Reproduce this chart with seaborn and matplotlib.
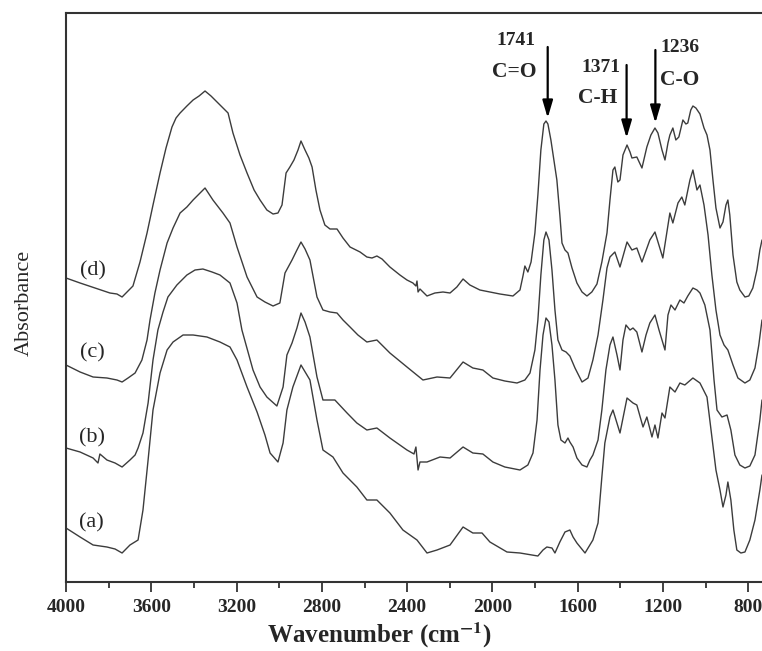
import matplotlib
matplotlib.use("Agg")
import matplotlib.pyplot as plt
from matplotlib.ticker import MultipleLocator
import pandas as pd
import seaborn as sns

# FTIR spectra (absorbance in arbitrary units, curves offset)
wn_d = [4000, 3934, 3864, 3794, 3761, 3737, 3709, 3686, 3653, 3620, 3592, 3559, 3531, 3503, 3484, 3465,
        3433, 3404, 3376, 3348, 3320, 3292, 3264, 3240, 3217, 3184, 3151, 3118, 3090, 3058, 3029, 3006,
        2987, 2968, 2950, 2931, 2912, 2898, 2879, 2861, 2846, 2828, 2809, 2786, 2762, 2729, 2701, 2668,
        2621, 2589, 2565, 2542, 2518, 2481, 2434, 2401, 2373, 2359, 2354, 2349, 2340, 2307, 2270, 2232,
        2199, 2167, 2138, 2106, 2059, 2012, 1965, 1904, 1871, 1857, 1848, 1834, 1819, 1801, 1787, 1773,
        1759, 1749, 1740, 1726, 1712, 1698, 1684, 1674, 1660, 1646, 1627, 1604, 1580, 1557, 1534, 1510,
        1487, 1463, 1449, 1435, 1426, 1412, 1402, 1388, 1369, 1355, 1346, 1323, 1299, 1276, 1257, 1238,
        1224, 1205, 1191, 1177, 1168, 1154, 1140, 1126, 1107, 1093, 1084, 1070, 1060, 1046, 1027, 1008,
        994, 980, 966, 952, 933, 919, 905, 896, 887, 872, 854, 840, 816, 798, 779, 760, 746, 736]
abs_d = [3.04, 2.99, 2.94, 2.89, 2.88, 2.85, 2.91, 2.96, 3.20, 3.49, 3.77, 4.09, 4.34, 4.55, 4.64, 4.69,
         4.76, 4.82, 4.86, 4.91, 4.86, 4.80, 4.74, 4.69, 4.49, 4.27, 4.09, 3.92, 3.82, 3.72, 3.68, 3.69,
         3.77, 4.09, 4.15, 4.22, 4.32, 4.41, 4.32, 4.24, 4.15, 3.92, 3.72, 3.57, 3.53, 3.53, 3.44, 3.35,
         3.30, 3.25, 3.24, 3.26, 3.23, 3.15, 3.07, 3.02, 2.99, 2.96, 3.01, 2.90, 2.93, 2.86, 2.89, 2.90,
         2.89, 2.95, 3.03, 2.97, 2.92, 2.90, 2.88, 2.86, 2.92, 3.06, 3.16, 3.10, 3.20, 3.49, 3.87, 4.32,
         4.58, 4.61, 4.58, 4.42, 4.22, 4.02, 3.67, 3.39, 3.32, 3.29, 3.14, 2.99, 2.90, 2.86, 2.90, 2.98,
         3.20, 3.49, 3.82, 4.12, 4.15, 4.00, 4.02, 4.27, 4.37, 4.30, 4.24, 4.25, 4.14, 4.35, 4.47, 4.54,
         4.49, 4.32, 4.22, 4.39, 4.47, 4.54, 4.42, 4.45, 4.62, 4.58, 4.59, 4.72, 4.76, 4.74, 4.68, 4.54,
         4.47, 4.32, 4.02, 3.74, 3.54, 3.60, 3.77, 3.82, 3.67, 3.27, 3.00, 2.92, 2.85, 2.86, 2.94, 3.12,
         3.32, 3.42]

wn_c = [4000, 3934, 3873, 3808, 3761, 3737, 3709, 3676, 3644, 3620, 3606, 3583, 3559, 3526, 3498, 3465,
        3433, 3404, 3376, 3348, 3311, 3264, 3231, 3198, 3151, 3104, 3067, 3029, 2997, 2973, 2940, 2917,
        2898, 2879, 2856, 2823, 2795, 2762, 2729, 2701, 2668, 2631, 2589, 2542, 2481, 2401, 2326, 2260,
        2199, 2138, 2092, 2045, 1998, 1942, 1885, 1848, 1824, 1801, 1787, 1773, 1759, 1749, 1735, 1721,
        1707, 1693, 1674, 1655, 1637, 1613, 1580, 1552, 1529, 1505, 1482, 1463, 1449, 1426, 1402, 1369,
        1346, 1323, 1299, 1262, 1238, 1201, 1168, 1154, 1130, 1112, 1098, 1074, 1060, 1041, 1027, 1008,
        989, 971, 952, 933, 914, 896, 872, 849, 816, 793, 769, 751, 736]
abs_c = [2.17, 2.10, 2.05, 2.04, 2.02, 2.00, 2.04, 2.09, 2.22, 2.42, 2.62, 2.89, 3.12, 3.39, 3.54, 3.69,
         3.75, 3.82, 3.88, 3.94, 3.82, 3.69, 3.59, 3.35, 3.05, 2.85, 2.80, 2.76, 2.79, 3.09, 3.22, 3.32,
         3.40, 3.33, 3.22, 2.85, 2.72, 2.70, 2.69, 2.62, 2.55, 2.47, 2.40, 2.42, 2.29, 2.15, 2.02, 2.05,
         2.04, 2.20, 2.14, 2.12, 2.04, 2.01, 1.99, 2.02, 2.09, 2.32, 2.62, 3.07, 3.42, 3.50, 3.42, 3.12,
         2.72, 2.42, 2.32, 2.30, 2.26, 2.14, 2.00, 2.04, 2.22, 2.47, 2.82, 3.14, 3.25, 3.30, 3.15, 3.40,
         3.32, 3.34, 3.20, 3.42, 3.50, 3.24, 3.69, 3.59, 3.79, 3.85, 3.77, 4.02, 4.12, 3.92, 3.97, 3.77,
         3.47, 3.07, 2.72, 2.47, 2.37, 2.32, 2.17, 2.04, 1.99, 2.02, 2.14, 2.37, 2.62]

wn_b = [4000, 3934, 3873, 3850, 3841, 3808, 3770, 3737, 3700, 3676, 3662, 3639, 3615, 3592, 3569, 3545,
        3522, 3480, 3433, 3395, 3358, 3315, 3278, 3231, 3198, 3175, 3123, 3090, 3058, 3011, 2982, 2964,
        2940, 2917, 2898, 2879, 2856, 2823, 2795, 2739, 2682, 2636, 2589, 2542, 2481, 2401, 2368, 2359,
        2349, 2340, 2307, 2246, 2199, 2138, 2092, 2045, 1998, 1942, 1871, 1834, 1810, 1791, 1777, 1763,
        1749, 1735, 1721, 1707, 1693, 1679, 1660, 1646, 1637, 1622, 1604, 1580, 1557, 1543, 1529, 1505,
        1487, 1468, 1449, 1435, 1416, 1402, 1388, 1374, 1355, 1341, 1323, 1299, 1280, 1262, 1238, 1219,
        1205, 1191, 1177, 1163, 1144, 1121, 1102, 1084, 1060, 1041, 1027, 1004, 980, 961, 947, 924,
        900, 882, 863, 840, 816, 793, 769, 746, 736]
abs_b = [1.34, 1.30, 1.24, 1.19, 1.28, 1.22, 1.19, 1.15, 1.22, 1.27, 1.34, 1.49, 1.79, 2.22, 2.52, 2.70,
         2.85, 2.97, 3.07, 3.12, 3.13, 3.10, 3.07, 2.99, 2.79, 2.52, 2.12, 1.95, 1.85, 1.76, 1.95, 2.27,
         2.39, 2.54, 2.69, 2.60, 2.45, 2.05, 1.82, 1.82, 1.69, 1.59, 1.52, 1.54, 1.44, 1.32, 1.28, 1.35,
         1.12, 1.20, 1.20, 1.25, 1.24, 1.35, 1.29, 1.28, 1.20, 1.15, 1.12, 1.17, 1.29, 1.62, 2.12, 2.47,
         2.64, 2.60, 2.37, 2.02, 1.57, 1.42, 1.39, 1.44, 1.40, 1.35, 1.24, 1.17, 1.15, 1.22, 1.27, 1.42,
         1.72, 2.12, 2.37, 2.45, 2.27, 2.12, 2.42, 2.57, 2.52, 2.54, 2.50, 2.30, 2.47, 2.59, 2.67, 2.52,
         2.42, 2.32, 2.67, 2.77, 2.72, 2.82, 2.79, 2.86, 2.94, 2.92, 2.89, 2.77, 2.52, 2.02, 1.72, 1.65,
         1.67, 1.52, 1.27, 1.17, 1.14, 1.16, 1.27, 1.62, 1.82]

wn_a = [4000, 3934, 3873, 3808, 3770, 3737, 3700, 3662, 3639, 3615, 3592, 3559, 3526, 3498, 3451, 3404,
        3339, 3278, 3231, 3198, 3151, 3104, 3067, 3043, 3006, 2982, 2964, 2936, 2898, 2856, 2823, 2795,
        2748, 2701, 2636, 2589, 2542, 2481, 2420, 2354, 2307, 2260, 2199, 2138, 2092, 2049, 2012, 1932,
        1871, 1787, 1763, 1745, 1721, 1707, 1684, 1660, 1637, 1622, 1604, 1566, 1529, 1505, 1487, 1473,
        1449, 1435, 1402, 1369, 1341, 1323, 1294, 1276, 1252, 1238, 1224, 1205, 1191, 1168, 1144, 1121,
        1098, 1060, 1027, 994, 971, 952, 933, 919, 905, 896, 882, 868, 854, 835, 816, 793, 769, 746, 736]
abs_a = [0.54, 0.45, 0.37, 0.35, 0.33, 0.29, 0.37, 0.42, 0.72, 1.22, 1.72, 2.09, 2.32, 2.40, 2.47, 2.47,
         2.45, 2.40, 2.35, 2.22, 1.95, 1.70, 1.47, 1.29, 1.20, 1.39, 1.72, 1.95, 2.17, 2.02, 1.62, 1.32,
         1.25, 1.09, 0.95, 0.82, 0.82, 0.69, 0.52, 0.42, 0.29, 0.32, 0.37, 0.55, 0.49, 0.49, 0.40, 0.30,
         0.29, 0.26, 0.32, 0.35, 0.34, 0.29, 0.40, 0.50, 0.52, 0.45, 0.39, 0.29, 0.42, 0.59, 1.05, 1.39,
         1.65, 1.72, 1.49, 1.84, 1.79, 1.77, 1.55, 1.65, 1.45, 1.57, 1.44, 1.69, 1.64, 1.95, 1.90, 1.99,
         1.97, 2.04, 1.99, 1.85, 1.45, 1.12, 0.92, 0.75, 0.87, 1.00, 0.82, 0.52, 0.32, 0.29, 0.30, 0.42,
         0.62, 0.92, 1.07]

sample_names = ["(a)", "(b)", "(c)", "(d)"]
label_wn = [3883, 3878, 3878, 3873]
label_abs = [0.59, 1.44, 2.29, 3.11]

# band assignments marked with arrows
band_wn = [1741, 1371, 1236]
band_names = ["C=O", "C-H", "C-O"]


def build_frame():
    parts = []
    for name, x, y in zip(sample_names, [wn_a, wn_b, wn_c, wn_d], [abs_a, abs_b, abs_c, abs_d]):
        parts.append(pd.DataFrame({"wavenumber": x, "absorbance": y, "sample": name}))
    return pd.concat(parts, ignore_index=True)


def plot_spectra(df):
    sns.set_theme(style="ticks")
    plt.rcParams["font.family"] = ["Liberation Serif", "DejaVu Serif"]
    plt.rcParams["mathtext.fontset"] = "stix"

    fig = plt.figure(figsize=(7.62, 6.51), dpi=100)
    ax = fig.add_axes([66 / 762, 69 / 651, 696 / 762, 569 / 651])

    for name in sample_names:
        sub = df[df["sample"] == name]
        sns.lineplot(data=sub, x="wavenumber", y="absorbance", ax=ax, color="#3c3c3c",
                     linewidth=1.0, sort=False, estimator=None, legend=False)

    ax.set_xlim(4000, 736)
    ax.set_ylim(0, 5.69)

    # axis cosmetics: open on the right, no y ticks
    ax.spines["right"].set_visible(False)
    for side in ["left", "top", "bottom"]:
        ax.spines[side].set_linewidth(1.5)
        ax.spines[side].set_color("#333333")
    ax.xaxis.set_major_locator(MultipleLocator(400))
    ax.xaxis.set_minor_locator(MultipleLocator(200))
    ax.tick_params(axis="x", which="major", direction="out", length=7, width=1.3,
                   color="#333333", labelsize=14, pad=5)
    ax.tick_params(axis="x", which="minor", direction="out", length=4, width=1.3, color="#333333")
    ax.tick_params(axis="x", which="both", top=False)
    ax.set_yticks([])
    for lab in ax.get_xticklabels():
        lab.set_fontweight("bold")

    ax.set_xlabel(r"Wavenumber (cm$^{\mathbf{-1}}$)", fontsize=18, fontweight="bold")
    ax.xaxis.set_label_coords(0.451, -0.068)
    ax.set_ylabel("Absorbance", fontsize=16)
    ax.yaxis.set_label_coords(-0.046, 0.49)

    for name, x, y in zip(sample_names, label_wn, label_abs):
        ax.text(x, y, name, fontsize=16, ha="center", va="center")

    # arrows for the bands
    arrow_top = [5.35, 5.17, 5.32]
    arrow_tip = [4.64, 4.44, 4.59]
    num_pos = [(1890, 5.42), (1491, 5.15), (1121, 5.35)]
    name_pos = [(1899, 5.10), (1505, 4.84), (1121, 5.02)]
    for wn, nm, top, tip, npos, gpos in zip(band_wn, band_names, arrow_top, arrow_tip, num_pos, name_pos):
        ax.annotate("", xy=(wn, tip), xytext=(wn, top),
                    arrowprops=dict(arrowstyle="-|>,head_length=0.75,head_width=0.22",
                                    color="black", lw=1.6, shrinkA=0, shrinkB=0, mutation_scale=14))
        ax.text(npos[0], npos[1], str(wn), fontsize=14, fontweight="bold", ha="center", va="center")
        ax.text(gpos[0], gpos[1], nm, fontsize=15.5, fontweight="bold", ha="center", va="center")

    fig.savefig("out.png", dpi=100)


if __name__ == "__main__":
    plot_spectra(build_frame())
